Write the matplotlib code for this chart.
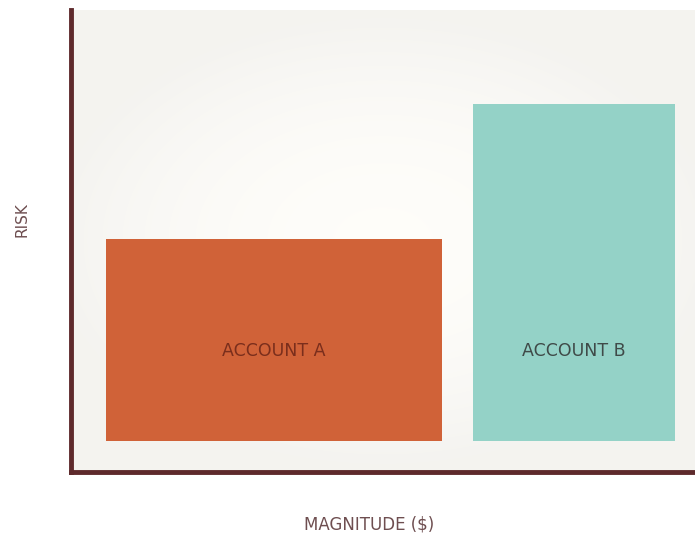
import matplotlib.pyplot as plt
import numpy as np

# data: bar width = magnitude, bar height = risk
accounts = ['ACCOUNT A', 'ACCOUNT B']
magnitude = [100, 60]
risk = [60, 100]
bar_colors = ['#d06238', '#94d2c7']
label_colors = ['#7a2e1c', '#3f4a48']

left_pad = 10.4
gap = 9.2
base = 9.2

fig = plt.figure(figsize=(6.95, 5.37), dpi=100)
fig.patch.set_facecolor('white')
ax = fig.add_axes([71 / 695, 65 / 537, 624 / 695, 462 / 537])

xmax = 185.7
ymax = 137.1
ax.set_xlim(0, xmax)
ax.set_ylim(0, ymax)

# soft glow background
gx, gy = np.meshgrid(np.linspace(-1, 1, 300), np.linspace(-1, 1, 300))
r = np.sqrt(gx ** 2 + (gy * 1.1) ** 2)
shade = np.clip(1.0 - 0.035 * r ** 2, 0.96, 1.0)
bg = np.dstack([shade * 0.997, shade * 0.993, shade * 0.98])
ax.imshow(bg, extent=[0, xmax, 0, ymax], aspect='auto', zorder=0,
          interpolation='bilinear')

x = left_pad
for name, w, h, c, tc in zip(accounts, magnitude, risk, bar_colors, label_colors):
    ax.bar(x, h, width=w, bottom=base, align='edge', color=c, zorder=2)
    ax.text(x + w / 2, 36, name, ha='center', va='center', fontsize=12.5,
            color=tc, zorder=3)
    x += w + gap

for side in ['top', 'right']:
    ax.spines[side].set_visible(False)
for side in ['left', 'bottom']:
    ax.spines[side].set_color('#5e2a2c')
    ax.spines[side].set_linewidth(3.5)
ax.set_xticks([])
ax.set_yticks([])

fig.text(22 / 695, 1 - 220 / 537, 'RISK', rotation=90, ha='center', va='center',
         fontsize=11, color='#6e4e50')
fig.text(369 / 695, 1 - 525 / 537, 'MAGNITUDE ($)', ha='center', va='center',
         fontsize=12, color='#6e4e50')

fig.savefig('out.png', dpi=100)
